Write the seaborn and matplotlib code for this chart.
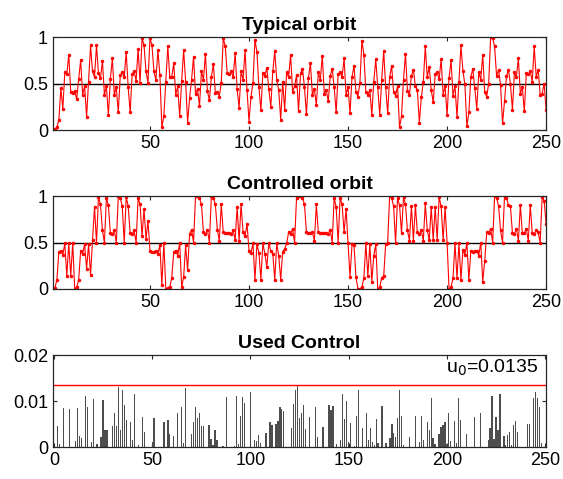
import numpy as np
import matplotlib
matplotlib.use("Agg")
import matplotlib.pyplot as plt
import seaborn as sns

# orbit values, steps 1..250
typical = [
    0.0, 0.01, 0.03, 0.11, 0.45, 0.23, 0.62, 0.6, 0.81, 0.41,
    0.4, 0.42, 0.33, 0.55, 0.75, 0.38, 0.47, 0.14, 0.52, 0.91,
    0.63, 0.57, 0.91, 0.61, 0.56, 0.74, 0.38, 0.47, 0.16, 0.55,
    0.77, 0.38, 0.46, 0.19, 0.59, 0.62, 0.57, 0.84, 0.46, 0.19,
    0.6, 0.63, 0.53, 0.87, 0.51, 0.99, 0.91, 0.63, 0.51, 0.99,
    0.91, 0.63, 0.54, 0.86, 0.59, 0.03, 0.15, 0.52, 0.9, 0.57,
    0.57, 0.72, 0.38, 0.47,
    0.15, 0.53, 0.86, 0.52, 0.08, 0.34, 0.54, 0.79, 0.39, 0.44,
    0.26, 0.63, 0.54, 0.82, 0.42, 0.32, 0.57, 0.71, 0.4, 0.41,
    0.36, 0.51, 0.99, 0.9, 0.61, 0.6, 0.63, 0.57, 0.83, 0.44,
    0.24, 0.63, 0.54, 0.86, 0.43, 0.09, 0.36, 0.51, 0.97, 0.84,
    0.46, 0.21, 0.61, 0.58, 0.67, 0.44, 0.25, 0.63, 0.85, 0.54,
    0.43, 0.11, 0.52, 0.22, 0.62, 0.57, 0.81, 0.41, 0.47, 0.59,
    0.2, 0.61,
    0.66, 0.46, 0.17, 0.56, 0.72, 0.38, 0.44, 0.27, 0.62, 0.54,
    0.8, 0.39, 0.43, 0.31, 0.58, 0.66, 0.46, 0.19, 0.6, 0.62,
    0.57, 0.77, 0.38, 0.46, 0.18, 0.57, 0.69, 0.41, 0.36, 0.51,
    0.96, 0.81, 0.41, 0.38, 0.43, 0.16, 0.52, 0.76, 0.46, 0.16,
    0.54, 0.85, 0.46, 0.18, 0.57, 0.69, 0.41, 0.37, 0.47, 0.03,
    0.15, 0.54, 0.82, 0.42, 0.38, 0.58, 0.65, 0.47, 0.43, 0.08,
    0.35, 0.52, 0.9, 0.57, 0.68, 0.43, 0.3, 0.6, 0.62, 0.55,
    0.76, 0.38, 0.47, 0.16, 0.56, 0.75, 0.37, 0.47, 0.14, 0.52,
    0.91, 0.64, 0.49, 0.04, 0.19, 0.57, 0.66, 0.45, 0.23, 0.62,
    0.54, 0.81, 0.41, 0.36, 0.5, 1.0, 0.99, 0.9, 0.58, 0.65,
    0.48, 0.07, 0.31, 0.58, 0.65, 0.49, 0.22, 0.62, 0.57, 0.77,
    0.39, 0.46, 0.2, 0.61, 0.6, 0.63, 0.52, 0.9, 0.57, 0.65,
    0.38, 0.39, 0.5, 0.21,
]

controlled = [
    0.0, 0.01, 0.1, 0.4, 0.41, 0.37, 0.49, 0.14, 0.49, 0.14,
    0.5, 0.0, 0.02, 0.1, 0.41, 0.38, 0.48, 0.22, 0.48, 0.15,
    0.53, 0.88, 0.5, 0.99, 0.91, 0.63, 0.5, 0.98, 0.9, 0.6,
    0.59, 0.63, 0.5, 1.0, 0.98, 0.89, 0.5, 0.99, 0.89, 0.6,
    0.59, 0.63, 0.5, 0.98, 0.91, 0.57, 0.86, 0.54, 0.73, 0.41,
    0.4, 0.4, 0.41, 0.38, 0.47, 0.04, 0.5, 0.0, 0.01, 0.02,
    0.12, 0.4, 0.41, 0.36,
    0.5, 0.02, 0.13, 0.47, 0.2, 0.59, 0.64, 0.5, 1.0, 1.0,
    0.98, 0.91, 0.61, 0.59, 0.64, 0.5, 1.0, 0.98, 0.91, 0.64,
    0.52, 0.91, 0.61, 0.6, 0.6, 0.6, 0.59, 0.63, 0.53, 0.88,
    0.52, 0.91, 0.61, 0.57, 0.7, 0.41, 0.39, 0.49, 0.1, 0.48,
    0.39, 0.1, 0.49, 0.38, 0.24, 0.49, 0.41, 0.38, 0.1, 0.49,
    0.36, 0.1, 0.4, 0.43, 0.49, 0.61, 0.59, 0.65, 0.5, 0.98,
    1.0, 1.0, 0.98, 0.91, 0.61, 0.6, 0.6, 0.61, 0.52, 0.91,
    0.61, 0.6, 0.6, 0.6, 0.6, 0.59, 0.64, 0.5, 0.98, 0.88,
    0.5, 0.98, 0.91, 0.61, 0.86, 0.49, 0.13, 0.48, 0.47, 0.13,
    0.0, 0.0, 0.02, 0.12, 0.49, 0.14, 0.48, 0.08, 0.36, 0.48,
    0.0, 0.02, 0.12, 0.14, 0.48, 0.5, 1.0, 0.98, 0.89, 0.5,
    0.98, 0.9, 0.6, 0.99, 0.91, 0.63, 0.52, 0.89, 0.52, 0.9,
    0.61,
    0.59, 0.63, 0.52, 0.92, 0.63, 0.53, 0.88, 0.53, 0.88, 0.53,
    0.99, 0.89, 0.53, 0.88, 0.5, 0.0, 0.02, 0.12, 0.49, 0.12,
    0.49, 0.1, 0.42, 0.37, 0.49, 0.1, 0.41, 0.4, 0.41, 0.41,
    0.36, 0.5, 0.08, 0.3, 0.61, 0.6, 0.65, 0.5, 1.0, 0.98,
    0.89, 0.63, 0.5, 1.0, 0.98, 0.9, 0.89, 0.6, 0.59, 0.65,
    0.52, 0.9, 0.6, 0.6, 0.65, 0.52, 0.9, 0.6, 0.59, 0.63,
    0.61, 0.5, 0.99, 0.95, 0.7,
]

# control used: steps where it is nonzero, and its size
ctrl_steps = [
    2, 3, 5, 8, 11, 12, 13, 14, 16, 17, 19, 20, 22, 24, 25, 26, 27, 30, 31, 32,
    33, 34, 35, 36, 37, 39, 40, 41, 43, 45, 46, 50, 51, 56, 58, 59, 61, 63, 65, 66,
    67, 70, 71, 72, 73, 74, 75, 76, 79, 80, 81, 82, 83, 86, 88, 92, 93, 94, 95, 96,
    97, 100, 102, 103, 104, 105, 108, 110, 111, 113, 114, 115, 116, 117, 121, 122, 123, 124, 125, 126,
    127, 128, 130, 133, 134, 137, 140, 141, 142, 144, 146, 147, 148, 149, 150, 151, 153, 154, 155, 157,
    159, 160, 161, 162, 163, 164, 165, 167, 169, 171, 172, 173, 174, 175, 176, 177, 178, 181, 184, 186,
    187, 188, 190, 191, 192, 193, 194, 196, 197, 198, 199, 200, 201, 202, 204, 205, 206, 207, 210, 212,
    214, 217, 221, 222, 223, 224, 225, 226, 227, 229, 230, 231, 232, 233, 234, 235, 236, 241, 242, 244,
    245, 246, 247, 248,
]
ctrl_vals = [
    0.0046, 0.0006, 0.0084, 0.0083, 0.0013, 0.0084, 0.0024, 0.002, 0.011, 0.0088,
    0.001, 0.0104, 0.0007, 0.0022, 0.0102, 0.0037, 0.0037, 0.0046, 0.0073, 0.0046,
    0.0131, 0.0037, 0.0125, 0.0091, 0.0059, 0.0055, 0.0015, 0.0115, 0.0004, 0.0066,
    0.0032, 0.001, 0.0062, 0.0055, 0.0059, 0.0028, 0.0025, 0.0073, 0.0088, 0.0009,
    0.0128, 0.0028, 0.0055, 0.0086, 0.0062, 0.0073, 0.0046, 0.0046, 0.0048, 0.0017,
    0.0004, 0.0038, 0.0015, 0.0003, 0.0108, 0.0003, 0.0111, 0.0006, 0.0067, 0.0108,
    0.0096, 0.012, 0.0015, 0.0014, 0.0026, 0.0008, 0.003, 0.0055, 0.0048, 0.0049,
    0.0057, 0.0087, 0.0083, 0.0078, 0.0042, 0.0093, 0.0124, 0.0135, 0.0062, 0.0075,
    0.0091, 0.0039, 0.0066, 0.0086, 0.0022, 0.0044, 0.0091, 0.008, 0.0089, 0.0006,
    0.0015, 0.0115, 0.006, 0.0101, 0.001, 0.0052, 0.0003, 0.0067, 0.0124, 0.0041,
    0.0075, 0.0015, 0.0042, 0.001, 0.0004, 0.0061, 0.0008, 0.0089, 0.0008, 0.002,
    0.0049, 0.003, 0.0022, 0.0062, 0.0125, 0.0068, 0.0004, 0.0022, 0.0067, 0.001,
    0.0068, 0.0015, 0.0054, 0.0036, 0.0107, 0.002, 0.0006, 0.0028, 0.0044, 0.0048,
    0.0054, 0.0006, 0.0075, 0.0012, 0.0057, 0.0008, 0.0106, 0.0059, 0.0028, 0.0001,
    0.0066, 0.0073, 0.0015, 0.0041, 0.011, 0.0017, 0.0066, 0.0037, 0.0116, 0.0025,
    0.0004, 0.0026, 0.0032, 0.0004, 0.0048, 0.0057, 0.0032, 0.0051, 0.005, 0.0106,
    0.012, 0.0106, 0.0088, 0.0008,
]
u0 = 0.0135

steps = np.arange(1, 251)
control = np.zeros(250)
control[np.array(ctrl_steps) - 1] = ctrl_vals

sns.set_style("ticks")
plt.rcParams['font.family'] = ['Liberation Sans', 'DejaVu Sans']
plt.rcParams['text.color'] = 'k'
plt.rcParams['xtick.direction'] = 'in'
plt.rcParams['ytick.direction'] = 'in'
plt.rcParams['xtick.top'] = True
plt.rcParams['ytick.right'] = True

fig = plt.figure(figsize=(5.63, 4.79), dpi=100)
ax1 = fig.add_axes([0.094, 0.7286, 0.876, 0.194])
ax2 = fig.add_axes([0.094, 0.3967, 0.876, 0.194])
ax3 = fig.add_axes([0.094, 0.0668, 0.876, 0.192])

edge = '0.15'

def style(ax):
    for s in ax.spines.values():
        s.set_color(edge)
        s.set_linewidth(0.9)
    ax.tick_params(colors='k', labelsize=13, length=3, width=0.8, color=edge)
    ax.set_xlabel('')
    ax.set_ylabel('')

for ax, y, title in [(ax1, typical, 'Typical orbit'), (ax2, controlled, 'Controlled orbit')]:
    ax.axhline(0.5, color='k', linewidth=1)
    sns.lineplot(x=steps, y=y, ax=ax, color='red', linewidth=0.8,
                 marker='.', markersize=3.5, markeredgecolor='red')
    ax.set_xlim(1, 250)
    ax.set_ylim(0, 1)
    ax.set_xticks([50, 100, 150, 200, 250])
    ax.set_yticks([0, 0.5, 1])
    ax.set_yticklabels(['0', '0.5', '1'])
    ax.set_title(title, fontweight='bold', fontsize=14, pad=5, color='k')
    style(ax)

sns.barplot(x=steps, y=control, ax=ax3, native_scale=True, color='0.3',
            width=0.65, linewidth=0, errorbar=None, saturation=1)
ax3.axhline(u0, color='red', linewidth=1)
ax3.text(0.985, 0.86, r'u$_0$=0.0135', transform=ax3.transAxes,
         ha='right', va='center', fontsize=14, color='k')
ax3.set_xlim(-0.5, 250.5)
ax3.set_ylim(0, 0.02)
ax3.set_xticks([0, 50, 100, 150, 200, 250])
ax3.set_yticks([0, 0.01, 0.02])
ax3.set_yticklabels(['0', '0.01', '0.02'])
ax3.set_title('Used Control', fontweight='bold', fontsize=14, pad=5, color='k')
style(ax3)

fig.savefig('out.png', dpi=100)
